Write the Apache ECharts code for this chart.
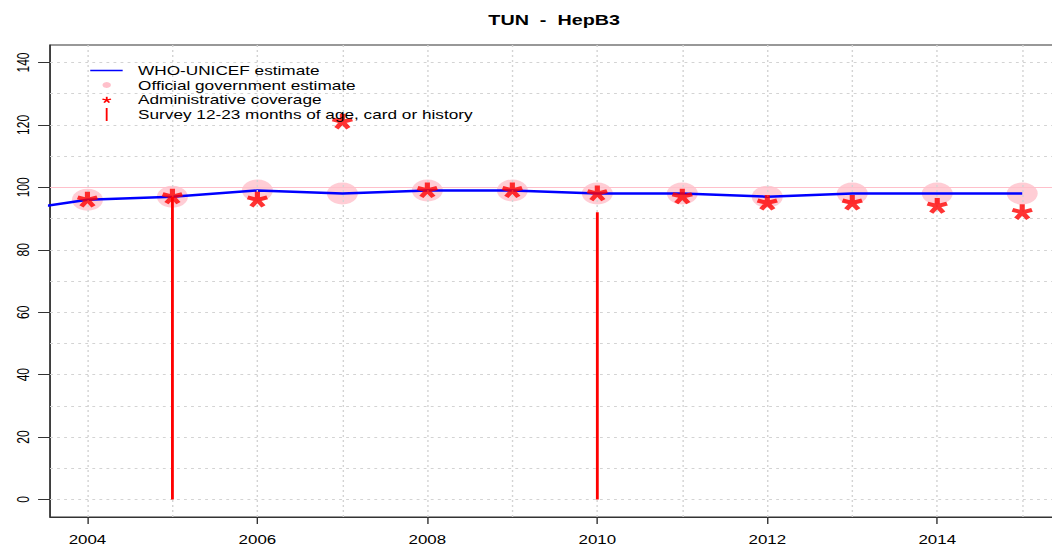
<!DOCTYPE html>
<html>
<head>
<meta charset="utf-8">
<script src="https://cdn.jsdelivr.net/npm/echarts@6/dist/echarts.min.js"></script>
<style>
  html, body { margin: 0; padding: 0; background: #fff; overflow: hidden; width: 1052px; height: 549px; }
  /* the plot is laid out narrow and widened horizontally, like the wide R device it imitates */
  #chart { width: 760px; height: 549px; transform: scaleX(1.41); transform-origin: 0 0; }
</style>
</head>
<body>
<div id="chart"></div>
<script>
// ---- data ----
const whoYears = [2003, 2004, 2005, 2006, 2007, 2008, 2009, 2010, 2011, 2012, 2013, 2014, 2015];
const whoEstimate = [92, 96, 97, 99, 98, 99, 99, 98, 98, 97, 98, 98, 98];

const years = [2004, 2005, 2006, 2007, 2008, 2009, 2010, 2011, 2012, 2013, 2014, 2015];
const govEstimate = [96, 97, 99, 98, 99, 99, 98, 98, 97, 98, 98, 98];
const adminCoverage = [96, 97, 96, 121, 99, 99, 98, 97, 95, 95, 94, 92];

const surveyYears = [2005, 2010];
const surveyCoverage = [97, 92];

const xTickLabels = [2004, 2006, 2008, 2010, 2012, 2014];
const yTickLabels = [0, 20, 40, 60, 80, 100, 120, 140];
const yGridValues = [0, 10, 20, 30, 40, 50, 60, 70, 80, 90, 100, 110, 120, 130, 140];
const xGridValues = years;
const referenceLevel = 100;

const titleText = 'TUN  -  HepB3';
const legendNames = [
  'WHO-UNICEF estimate',
  'Official government estimate',
  'Administrative coverage',
  'Survey 12-23 months of age, card or history'
];

// ---- five-armed asterisk: one quadrilateral per arm ----
const ARM_ANGLES = [90, 162, 234, 306, 18];
function asteriskArms(cx, cy, r, w) {
  return ARM_ANGLES.map(function (deg) {
    const t = deg * Math.PI / 180;
    const dx = Math.cos(t), dy = -Math.sin(t);
    const px = Math.sin(t), py = Math.cos(t);
    return [
      [cx + px * w / 2, cy + py * w / 2],
      [cx + px * w / 2 + dx * r, cy + py * w / 2 + dy * r],
      [cx - px * w / 2 + dx * r, cy - py * w / 2 + dy * r],
      [cx - px * w / 2, cy - py * w / 2]
    ];
  });
}
function asteriskPath() {
  let d = '';
  asteriskArms(50, 50, 50, 25).forEach(function (pts) {
    d += 'M' + pts.map(function (p) { return p[0].toFixed(2) + ' ' + p[1].toFixed(2); }).join('L') + 'Z';
  });
  // keep the box centred on the hub
  d += 'M50 100L50 100';
  return 'path://' + d;
}
const STAR = asteriskPath();

const FONT = '"Liberation Sans", Arial, Helvetica, sans-serif';
const X_MIN = 2003.56, X_MAX = 2015.44;
const Y_MIN = -5.6, Y_MAX = 145.6;

const chart = echarts.init(document.getElementById('chart'), null, { renderer: 'svg' });

const dotted = { color: '#d3d3d3', width: 1, type: [2, 3] };

// key entries
const keyText = { font: '12.2px ' + FONT, fill: '#000', textVerticalAlign: 'middle' };
const keyGraphics = [
  { type: 'line', shape: { x1: 64, y1: 70.5, x2: 87, y2: 70.5 }, style: { stroke: '#0000ff', lineWidth: 1.5 }, z: 10 },
  { type: 'circle', shape: { cx: 75.7, cy: 85, r: 3 }, style: { fill: '#ffc0cb' }, z: 10 },
  { type: 'rect', shape: { x: 75, y: 108, width: 1.3, height: 13 }, style: { fill: '#ff0000' }, z: 10 }
].concat(asteriskArms(75.7, 100, 3.2, 1.3).map(function (pts) {
  return { type: 'polygon', shape: { points: pts }, style: { fill: '#ff0000' }, z: 10 };
})).concat([71, 85.5, 100, 114.5].map(function (y, i) {
  return { type: 'text', x: 97.9, y: y, style: Object.assign({ text: legendNames[i] }, keyText), z: 10 };
}));

chart.setOption({
  animation: false,
  backgroundColor: '#ffffff',
  title: {
    text: titleText,
    left: 388,
    top: 8,
    textAlign: 'center',
    textStyle: { fontFamily: FONT, fontSize: 14, fontWeight: 'bold', color: '#000' }
  },
  grid: {
    left: 35.5, top: 45, width: 716, height: 472,
    show: true, borderColor: '#333', borderWidth: 1, backgroundColor: 'transparent'
  },
  xAxis: {
    type: 'value', min: X_MIN, max: X_MAX,
    axisLine: { show: true, onZero: false, lineStyle: { color: '#333', width: 1 } },
    axisTick: { show: true, length: 7, customValues: xTickLabels, lineStyle: { color: '#333' } },
    axisLabel: {
      customValues: xTickLabels, margin: 17,
      fontFamily: FONT, fontSize: 12, color: '#000',
      formatter: function (v) { return String(v); }
    },
    splitLine: { show: false }
  },
  yAxis: {
    type: 'value', min: Y_MIN, max: Y_MAX,
    axisLine: { show: true, onZero: false, lineStyle: { color: '#333', width: 1 } },
    axisTick: { show: true, length: 8.5, customValues: yTickLabels, lineStyle: { color: '#333' } },
    axisLabel: {
      customValues: yTickLabels, rotate: 90, margin: 13,
      fontFamily: FONT, fontSize: 12, color: '#000',
      formatter: function (v) { return String(v); }
    },
    splitLine: { show: false }
  },
  series: [
    {
      // dotted background grid
      type: 'line', data: [], z: 1, silent: true,
      markLine: {
        silent: true, symbol: 'none', label: { show: false },
        lineStyle: dotted, animation: false,
        data: yGridValues.map(function (v) { return { yAxis: v }; })
          .concat(xGridValues.map(function (v) { return { xAxis: v }; }))
      }
    },
    {
      // reference level
      type: 'line', data: [], z: 2, silent: true,
      markLine: {
        silent: true, symbol: 'none', label: { show: false }, animation: false,
        lineStyle: { color: '#ffc0cb', width: 1, type: 'solid' },
        data: [{ yAxis: referenceLevel }]
      }
    },
    {
      name: legendNames[1],
      type: 'scatter', z: 3,
      symbol: 'circle', symbolSize: 22,
      itemStyle: { color: '#ffc0cb' },
      data: years.map(function (y, i) { return [y, govEstimate[i]]; })
    },
    {
      name: legendNames[0],
      type: 'line', z: 4, clip: true,
      showSymbol: false, symbol: 'none',
      lineStyle: { color: '#0000ff', width: 2.5 },
      data: whoYears.map(function (y, i) { return [y, whoEstimate[i]]; })
    },
    {
      name: legendNames[2],
      type: 'scatter', z: 5,
      symbol: STAR, symbolSize: [15, 16], symbolKeepAspect: false,
      itemStyle: { color: '#ff0000' },
      data: years.map(function (y, i) { return [y, adminCoverage[i]]; })
    },
    {
      name: legendNames[3],
      type: 'bar', z: 6, barWidth: 2,
      itemStyle: { color: '#ff0000' },
      data: surveyYears.map(function (y, i) { return [y, surveyCoverage[i]]; })
    }
  ],
  graphic: keyGraphics
});
</script>
</body>
</html>
